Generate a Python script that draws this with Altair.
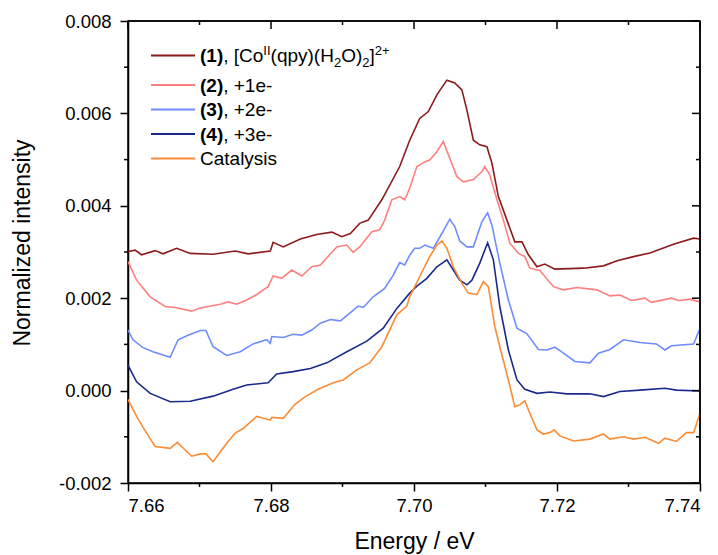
import altair as alt
import pandas as pd

# ---------------- data ----------------
series_names = ["(1)", "(2)", "(3)", "(4)", "Catalysis"]
series_colors = ["#8c1a1a", "#ff7f7f", "#6f8cff", "#1a2a8c", "#fb8c35"]

e1 = [7.6600, 7.6610, 7.6619, 7.6638, 7.6649, 7.6668, 7.6687, 7.6719, 7.6750, 7.6768,
      7.6799, 7.6803, 7.6817, 7.6841, 7.6864, 7.6885, 7.6899, 7.6911, 7.6924, 7.6936,
      7.6955, 7.6980, 7.6994, 7.7008, 7.7020, 7.7032, 7.7046, 7.7057, 7.7067, 7.7074,
      7.7083, 7.7092, 7.7102, 7.7109, 7.7118, 7.7130, 7.7141, 7.7151, 7.7160, 7.7172,
      7.7183, 7.7197, 7.7237, 7.7265, 7.7284, 7.7307, 7.7330, 7.7363, 7.7391, 7.7400]
i1 = [0.00301, 0.00304, 0.00294, 0.00303, 0.00296, 0.00308, 0.00297, 0.00295, 0.00302, 0.00296,
      0.00302, 0.00321, 0.00311, 0.00328, 0.00338, 0.00343, 0.00333, 0.00340, 0.00362, 0.00369,
      0.00413, 0.00485, 0.00542, 0.00589, 0.00604, 0.00640, 0.00672, 0.00666, 0.00651, 0.00607,
      0.00542, 0.00532, 0.00528, 0.00492, 0.00420, 0.00369, 0.00322, 0.00322, 0.00294, 0.00268,
      0.00274, 0.00263, 0.00265, 0.00270, 0.00281, 0.00290, 0.00298, 0.00317, 0.00330, 0.00328]

e2 = [7.6600, 7.6612, 7.6631, 7.6652, 7.6666, 7.6689, 7.6701, 7.6729, 7.6740, 7.6752,
      7.6766, 7.6780, 7.6796, 7.6803, 7.6815, 7.6829, 7.6843, 7.6857, 7.6869, 7.6892,
      7.6906, 7.6915, 7.6924, 7.6941, 7.6952, 7.6959, 7.6969, 7.6980, 7.6987, 7.6994,
      7.7004, 7.7015, 7.7022, 7.7032, 7.7041, 7.7050, 7.7060, 7.7069, 7.7083, 7.7095,
      7.7099, 7.7106, 7.7116, 7.7125, 7.7134, 7.7146, 7.7155, 7.7162, 7.7176, 7.7195,
      7.7209, 7.7228, 7.7256, 7.7274, 7.7288, 7.7304, 7.7323, 7.7332, 7.7360, 7.7370,
      7.7386, 7.7400]
i2 = [0.00279, 0.00239, 0.00203, 0.00182, 0.00180, 0.00172, 0.00179, 0.00187, 0.00192, 0.00187,
      0.00196, 0.00208, 0.00225, 0.00248, 0.00243, 0.00261, 0.00248, 0.00268, 0.00272, 0.00311,
      0.00315, 0.00299, 0.00311, 0.00344, 0.00348, 0.00369, 0.00413, 0.00420, 0.00413, 0.00438,
      0.00485, 0.00495, 0.00499, 0.00517, 0.00539, 0.00503, 0.00463, 0.00452, 0.00457, 0.00474,
      0.00485, 0.00467, 0.00413, 0.00369, 0.00319, 0.00297, 0.00290, 0.00265, 0.00260, 0.00225,
      0.00218, 0.00223, 0.00218, 0.00205, 0.00207, 0.00195, 0.00200, 0.00191, 0.00200, 0.00195,
      0.00198, 0.00192]

e3 = [7.6600, 7.6607, 7.6621, 7.6635, 7.6659, 7.6670, 7.6684, 7.6701, 7.6709, 7.6719,
      7.6738, 7.6757, 7.6775, 7.6794, 7.6799, 7.6801, 7.6817, 7.6831, 7.6843, 7.6857,
      7.6869, 7.6883, 7.6897, 7.6911, 7.6922, 7.6929, 7.6943, 7.6959, 7.6971, 7.6980,
      7.6987, 7.6994, 7.7001, 7.7008, 7.7015, 7.7027, 7.7039, 7.7050, 7.7057, 7.7064,
      7.7074, 7.7083, 7.7095, 7.7103, 7.7109, 7.7120, 7.7132, 7.7144, 7.7158, 7.7174,
      7.7186, 7.7197, 7.7209, 7.7225, 7.7246, 7.7258, 7.7274, 7.7293, 7.7316, 7.7339,
      7.7351, 7.7360, 7.7391, 7.7400]
i3 = [0.00131, 0.00110, 0.00093, 0.00084, 0.00072, 0.00110, 0.00120, 0.00130, 0.00130, 0.00095,
      0.00076, 0.00084, 0.00101, 0.00110, 0.00102, 0.00117, 0.00115, 0.00122, 0.00120, 0.00131,
      0.00146, 0.00154, 0.00151, 0.00169, 0.00183, 0.00180, 0.00203, 0.00221, 0.00250, 0.00277,
      0.00272, 0.00293, 0.00308, 0.00308, 0.00315, 0.00308, 0.00340, 0.00371, 0.00355, 0.00324,
      0.00311, 0.00311, 0.00366, 0.00385, 0.00358, 0.00276, 0.00196, 0.00135, 0.00123, 0.00089,
      0.00088, 0.00094, 0.00081, 0.00063, 0.00060, 0.00081, 0.00089, 0.00110, 0.00104, 0.00101,
      0.00088, 0.00097, 0.00101, 0.00135]

e4 = [7.6600, 7.6612, 7.6631, 7.6659, 7.6687, 7.6719, 7.6747, 7.6766, 7.6796, 7.6808,
      7.6831, 7.6855, 7.6878, 7.6906, 7.6934, 7.6957, 7.6976, 7.6994, 7.7004, 7.7018,
      7.7032, 7.7046, 7.7055, 7.7064, 7.7074, 7.7081, 7.7092, 7.7103, 7.7111, 7.7120,
      7.7132, 7.7144, 7.7155, 7.7172, 7.7190, 7.7214, 7.7246, 7.7265, 7.7288, 7.7316,
      7.7351, 7.7367, 7.7400]
i4 = [0.00055, 0.00019, -0.00006, -0.00024, -0.00023, -0.00012, 0.00003, 0.00012, 0.00017, 0.00036,
      0.00041, 0.00048, 0.00060, 0.00084, 0.00107, 0.00135, 0.00178, 0.00211, 0.00226, 0.00243,
      0.00268, 0.00283, 0.00261, 0.00239, 0.00229, 0.00239, 0.00276, 0.00320, 0.00283, 0.00182,
      0.00088, 0.00023, 0.00003, -0.00006, -0.00003, -0.00007, -0.00007, -0.00013, -0.00002, 0.00001,
      0.00005, 0.00001, -0.00001]

e5 = [7.6600, 7.6612, 7.6626, 7.6638, 7.6659, 7.6669, 7.6689, 7.6701, 7.6709, 7.6719,
      7.6738, 7.6750, 7.6761, 7.6780, 7.6799, 7.6801, 7.6817, 7.6834, 7.6848, 7.6866,
      7.6887, 7.6901, 7.6920, 7.6938, 7.6955, 7.6976, 7.6990, 7.6994, 7.7008, 7.7022,
      7.7032, 7.7039, 7.7046, 7.7055, 7.7067, 7.7076, 7.7088, 7.7097, 7.7104, 7.7113,
      7.7120, 7.7132, 7.7141, 7.7148, 7.7155, 7.7162, 7.7172, 7.7181, 7.7190, 7.7196,
      7.7204, 7.7223, 7.7246, 7.7265, 7.7274, 7.7293, 7.7307, 7.7323, 7.7342, 7.7351,
      7.7367, 7.7381, 7.7391, 7.7400]
i5 = [-0.00019, -0.00056, -0.00092, -0.00121, -0.00125, -0.00112, -0.00142, -0.00137, -0.00137, -0.00154,
      -0.00114, -0.00092, -0.00082, -0.00056, -0.00064, -0.00058, -0.00060, -0.00029, -0.00013, 0.00003,
      0.00017, 0.00023, 0.00045, 0.00060, 0.00095, 0.00164, 0.00183, 0.00203, 0.00247, 0.00290,
      0.00315, 0.00324, 0.00308, 0.00268, 0.00232, 0.00211, 0.00208, 0.00236, 0.00225, 0.00139,
      0.00095, 0.00023, -0.00035, -0.00031, -0.00022, -0.00049, -0.00085, -0.00094, -0.00091, -0.00085,
      -0.00098, -0.00109, -0.00105, -0.00094, -0.00105, -0.00100, -0.00105, -0.00101, -0.00114, -0.00103,
      -0.00110, -0.00091, -0.00091, -0.00049]

x_major = [7.66, 7.68, 7.70, 7.72, 7.74]
x_minor = [7.67, 7.69, 7.71, 7.73]
y_major = [-0.002, 0.0, 0.002, 0.004, 0.006, 0.008]
y_minor = [-0.001, 0.001, 0.003, 0.005, 0.007]

legend_rows = [
    [("(1)", "b"), (", [Co", "r"), ("II", "sup"), ("(qpy)(H", "r"), ("2", "sub"),
     ("O)", "r"), ("2", "sub"), ("]", "r"), ("2+", "sup")],
    [("(2)", "b"), (", +1e-", "r")],
    [("(3)", "b"), (", +2e-", "r")],
    [("(4)", "b"), (", +3e-", "r")],
    [("Catalysis", "r")],
]

# ---------------- build ----------------
rows = []
for name, es, vs in zip(series_names, [e1, e2, e3, e4, e5], [i1, i2, i3, i4, i5]):
    for e, v in zip(es, vs):
        rows.append({"series": name, "E": e, "I": v})
df = pd.DataFrame(rows)

W, H = 572, 462
FONT = "Liberation Sans"
xscale = alt.Scale(domain=[7.66, 7.74], nice=False, zero=False)
yscale = alt.Scale(domain=[-0.002, 0.008], nice=False, zero=False)

x_axis = alt.Axis(values=x_major, format=".2f", title="Energy / eV",
                  titleY=65.5, titleBaseline="alphabetic", labelPadding=5)
y_axis = alt.Axis(values=y_major, title="Normalized intensity",
                  labelExpr="replace(format(datum.value, '.3f'), '\u2212', '-')",
                  titleX=-98.7, titleY=221.5, titleAngle=270,
                  titleAlign="center", titleBaseline="alphabetic", labelPadding=9)

lines = alt.Chart(df).mark_line(strokeWidth=1.6, clip=True).encode(
    x=alt.X("E:Q", scale=xscale, axis=x_axis),
    y=alt.Y("I:Q", scale=yscale, axis=y_axis),
    color=alt.Color("series:N", scale=alt.Scale(domain=series_names, range=series_colors),
                    legend=None),
)

one = pd.DataFrame({"a": [0]})
layers = [lines]


def tick_rules(vals, field, chan, p0, p1):
    d = pd.DataFrame({field: vals})
    if chan == "x":
        enc = dict(x=alt.X(f"{field}:Q", scale=xscale, axis=x_axis),
                   y=alt.value(p0), y2=alt.value(p1))
    else:
        enc = dict(y=alt.Y(f"{field}:Q", scale=yscale, axis=y_axis),
                   x=alt.value(p0), x2=alt.value(p1))
    return alt.Chart(d).mark_rule(color="black", strokeWidth=1.5).encode(**enc)


# outward minor ticks (bottom, left)
layers.append(tick_rules(x_minor, "E", "x", H, H + 4))
layers.append(tick_rules(y_minor, "I", "y", -4, 0))
# inward ticks on top and right edges
layers.append(tick_rules(x_major, "E", "x", 0, 8))
layers.append(tick_rules(x_minor, "E", "x", 0, 4))
layers.append(tick_rules(y_major, "I", "y", W - 8, W))
layers.append(tick_rules(y_minor, "I", "y", W - 4, W))

# frame (top and right edges)
layers.append(alt.Chart(one).mark_rule(color="black", strokeWidth=1.5).encode(
    x=alt.value(0), x2=alt.value(W), y=alt.value(0)))
layers.append(alt.Chart(one).mark_rule(color="black", strokeWidth=1.5).encode(
    x=alt.value(W), y=alt.value(0), y2=alt.value(H)))

# ---------------- legend ----------------
REG = {"(": .333, ")": .333, ",": .278, " ": .278, "[": .278, "]": .278, "C": .722,
       "o": .556, "I": .278, "q": .556, "p": .556, "y": .5, "H": .722, "O": .778,
       "2": .556, "+": .584, "1": .556, "3": .556, "e": .556, "-": .333, "a": .556,
       "t": .278, "l": .222, "s": .5, "i": .222}
BOLD = {"(": .333, ")": .333, "1": .556, "2": .556, "3": .556, "4": .556}
FS, FS_SMALL = 19, 13

row_y = [34.5] + [64 + 24.5 * k for k in range(4)]
for k, pieces in enumerate(legend_rows):
    y = row_y[k]
    layers.append(alt.Chart(one).mark_rule(color=series_colors[k], strokeWidth=2).encode(
        x=alt.value(23), x2=alt.value(67), y=alt.value(y)))
    base = y + 0.716 * FS / 2
    xpos = 72
    for txt, kind in pieces:
        if kind == "b":
            size, weight, yy, table = FS, "bold", base, BOLD
        elif kind == "r":
            size, weight, yy, table = FS, "normal", base, REG
        elif kind == "sup":
            size, weight, yy, table = FS_SMALL, "normal", base - 7.5, REG
        else:
            size, weight, yy, table = FS_SMALL, "normal", base + 4.5, REG
        layers.append(alt.Chart(one).mark_text(
            align="left", baseline="alphabetic", font=FONT, fontSize=size,
            fontWeight=weight, color="black").encode(
            x=alt.value(xpos), y=alt.value(yy), text=alt.value(txt)))
        xpos += sum(table.get(c, .556) for c in txt) * size

chart = alt.layer(*layers).properties(
    width=W, height=H,
    background="white",
    autosize=alt.AutoSizeParams(type="none"),
    padding={"left": 120, "top": 13, "right": 10, "bottom": 76},
).configure_view(
    stroke="black", strokeWidth=1.5
).configure_axis(
    grid=False, domainColor="black", domainWidth=1.5,
    tickColor="black", tickWidth=1.5, tickSize=8,
    labelFont=FONT, labelFontSize=18.5, labelColor="black",
    titleFont=FONT, titleFontSize=23, titleFontWeight="normal", titleColor="black",
)

chart.save("out.html", embed_options={"renderer": "svg", "actions": False})
